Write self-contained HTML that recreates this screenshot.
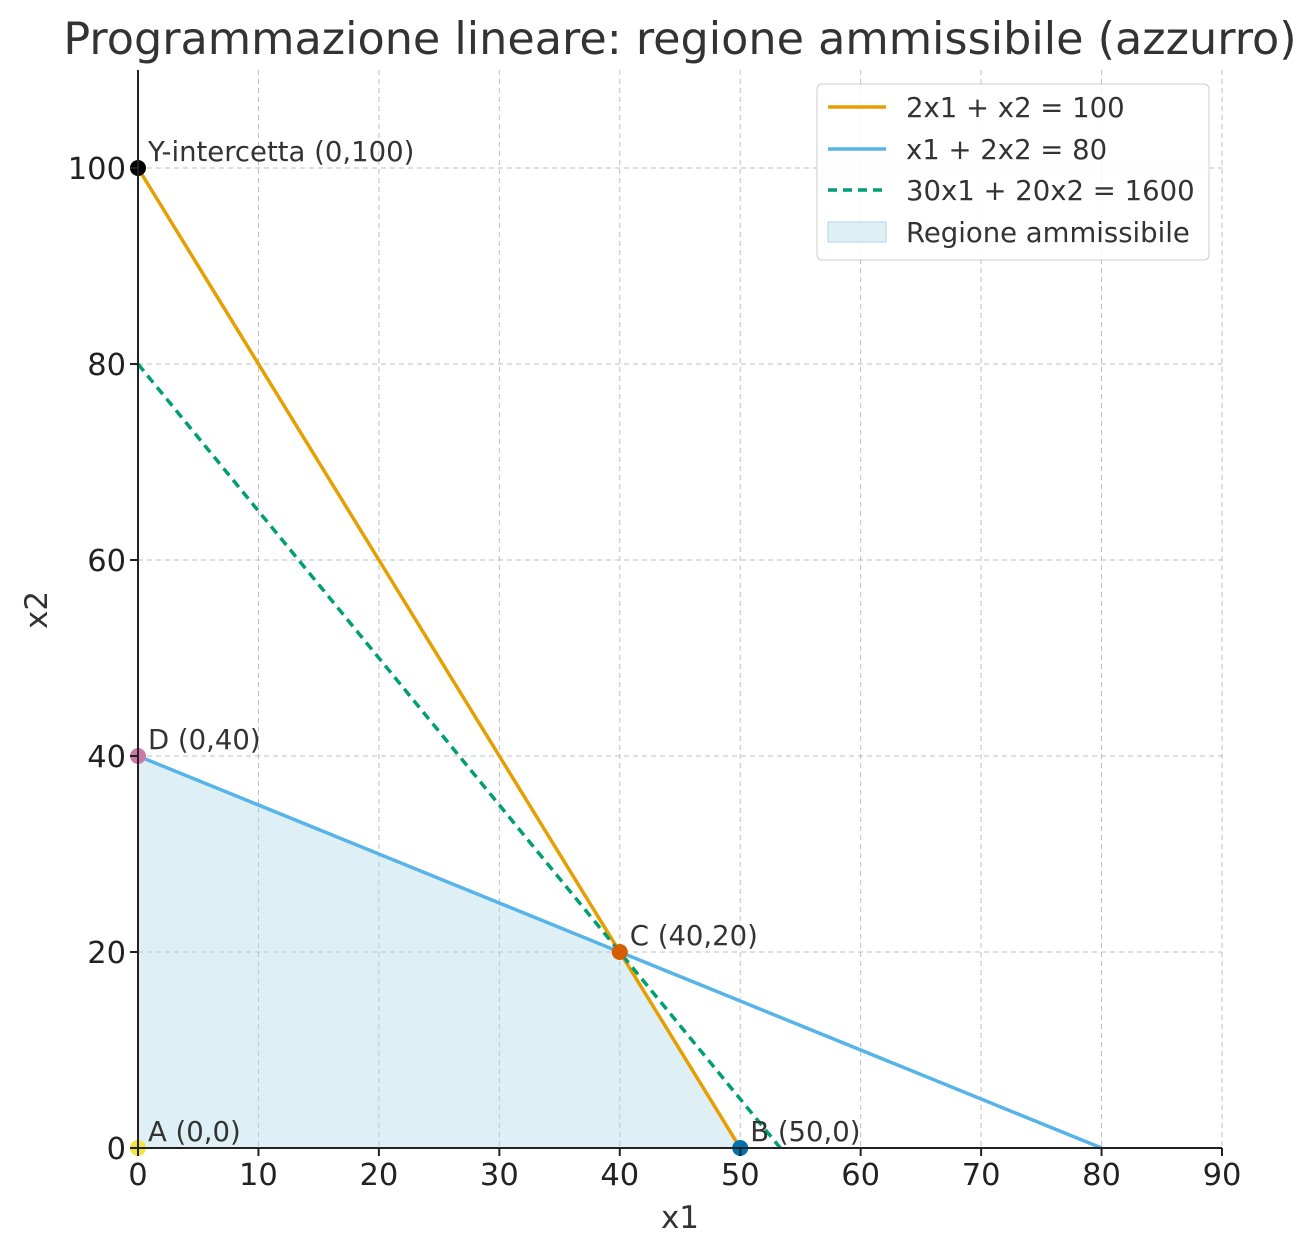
<!DOCTYPE html>
<html><head><meta charset="utf-8"><style>
body{margin:0;background:#fff}
svg{font-family:"DejaVu Sans","Liberation Sans",sans-serif}
</style></head><body>
<svg id="c" width="1316" height="1255" xmlns="http://www.w3.org/2000/svg"></svg>
<script>
const xTicks=[0,10,20,30,40,50,60,70,80,90];
const yTicks=[0,20,40,60,80,100];
const lineNames=["2x1 + x2 = 100","x1 + 2x2 = 80","30x1 + 20x2 = 1600"];
const lineStarts=[[0,100],[0,40],[0,80]];
const lineEnds=[[50,0],[80,0],[53.33,0]];
const lineColors=["#E69F00","#56B4E9","#009E73"];
const lineDash=["","","9,6"];
const regionX=[0,0,40,50];
const regionY=[0,40,20,0];
const pointLabels=["Y-intercetta (0,100)","D (0,40)","C (40,20)","B (50,0)","A (0,0)"];
const pointX=[0,0,40,50,0];
const pointY=[100,40,20,0,0];
const pointColors=["#000000","#CC79A7","#D55E00","#0072B2","#F0E442"];

const NS="http://www.w3.org/2000/svg";
const svg=document.getElementById('c');
const X0=138,X1=1222,Y0=1148,YT=70;
const sx=v=>X0+v/90*(X1-X0);
const sy=v=>Y0-v/110*(Y0-YT);
function mk(tag,attrs,parent){const e=document.createElementNS(NS,tag);for(const k in attrs)e.setAttribute(k,attrs[k]);(parent||svg).appendChild(e);return e;}

xTicks.forEach(t=>{if(t===0)return;const g=mk('line',{x1:sx(t),x2:sx(t),y1:YT,y2:Y0,stroke:'#b0b0b0','stroke-width':1,'stroke-dasharray':'5,4',opacity:0.8});

});
yTicks.forEach(t=>{if(t===0)return;const g=mk('line',{x1:X0,x2:X1,y1:sy(t),y2:sy(t),stroke:'#b0b0b0','stroke-width':1,'stroke-dasharray':'5,4',opacity:0.8});

});

const poly=mk('polygon',{points:regionX.map((v,i)=>sx(v)+','+sy(regionY[i])).join(' '),fill:'#add8e6','fill-opacity':0.4});



lineNames.forEach((n,i)=>{const l=mk('line',{x1:sx(lineStarts[i][0]),y1:sy(lineStarts[i][1]),x2:sx(lineEnds[i][0]),y2:sy(lineEnds[i][1]),stroke:lineColors[i],'stroke-width':3.5,'stroke-dasharray':lineDash[i]});

});

pointLabels.forEach((lab,i)=>{const c=mk('circle',{cx:sx(pointX[i]),cy:sy(pointY[i]),r:8,fill:pointColors[i]});


const t=mk('text',{x:sx(pointX[i])+10,y:sy(pointY[i])-7,'font-size':27.5,fill:'#333'});t.textContent=lab;

});

const ax=mk('path',{d:`M${X0},${YT}V${Y0}H${X1}`,fill:'none',stroke:'#222','stroke-width':2});


xTicks.forEach(t=>{mk('line',{x1:sx(t),x2:sx(t),y1:Y0,y2:Y0+8,stroke:'#222','stroke-width':2});
const tx=mk('text',{x:sx(t),y:Y0+37,'font-size':30.5,'text-anchor':'middle',fill:'#222'});tx.textContent=t;

});
yTicks.forEach(t=>{mk('line',{x1:X0-8,x2:X0,y1:sy(t),y2:sy(t),stroke:'#222','stroke-width':2});
const tx=mk('text',{x:X0-12,y:sy(t)+11,'font-size':30.5,'text-anchor':'end',fill:'#222'});tx.textContent=t;

});
</script>
<svg width="1316" height="1255" style="position:absolute;left:0;top:0" xmlns="http://www.w3.org/2000/svg">
<text x="680" y="54" font-size="44.5" text-anchor="middle" fill="#333" font-family="DejaVu Sans, Liberation Sans, sans-serif">Programmazione lineare: regione ammissibile (azzurro)</text>
<text x="680" y="1228" font-size="31" text-anchor="middle" fill="#333" font-family="DejaVu Sans, Liberation Sans, sans-serif">x1</text>
<text transform="translate(47,610) rotate(-90)" font-size="31" text-anchor="middle" fill="#333" font-family="DejaVu Sans, Liberation Sans, sans-serif">x2</text>
<g font-family="DejaVu Sans, Liberation Sans, sans-serif" font-size="27.5" fill="#333">
<rect x="817" y="84" width="392" height="176" rx="5" fill="#fff" fill-opacity="0.85" stroke="#ccc"/>
<line x1="828" x2="886" y1="107" y2="107" stroke="#E69F00" stroke-width="3.5"/>
<text x="906" y="117">2x1 + x2 = 100</text>
<line x1="828" x2="886" y1="149" y2="149" stroke="#56B4E9" stroke-width="3.5"/>
<text x="906" y="159">x1 + 2x2 = 80</text>
<line x1="828" x2="886" y1="190" y2="190" stroke="#009E73" stroke-width="3.5" stroke-dasharray="9,6"/>
<text x="906" y="200">30x1 + 20x2 = 1600</text>
<rect x="828" y="222" width="58" height="20" fill="#add8e6" fill-opacity="0.4" stroke="#add8e6"/>
<text x="906" y="242">Regione ammissibile</text>
</g>
</svg>
</body></html>
